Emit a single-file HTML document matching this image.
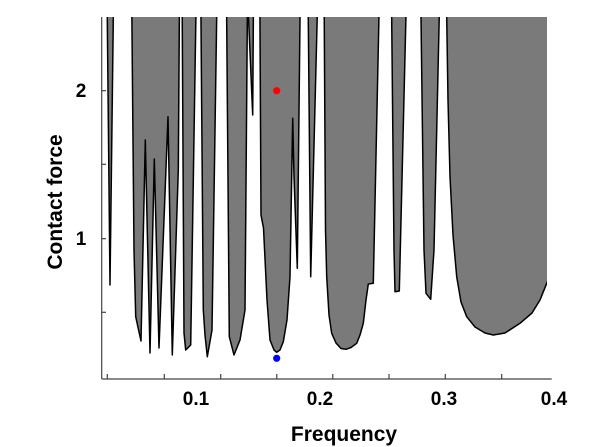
<!DOCTYPE html>
<html><head><style>body{margin:0;background:#fff}svg{display:block}</style></head><body>
<svg width="600" height="447" viewBox="0 0 600 447" xmlns="http://www.w3.org/2000/svg" font-family="Liberation Sans, sans-serif" font-weight="bold">
<defs><clipPath id="c"><rect x="100" y="17" width="447" height="362"/></clipPath></defs>
<g fill="#7a7a7a" stroke="#000" stroke-width="1.5" stroke-linejoin="round" clip-path="url(#c)">
<path d="M107.2,10 L110,285 L113.4,10 Z"/>
<path d="M131.8,10 L134,250 L135.7,316.7 L141,341 L145.3,140 L150,353 L154.3,159 L159,348 L168,116.7 L172.3,355 L178.3,170 L179.4,10 Z"/>
<path d="M182.2,10 L184,333 L185.7,350 L190.7,345 L196,10 Z"/>
<path d="M200.9,10 L203.3,310 L205,335 L207.3,356.7 L212,330 L216.8,10 Z"/>
<path d="M226.6,10 L229.3,336.7 L234,355 L240,340 L245,310 L247.4,10 Z"/>
<path d="M248.2,10 L252.7,115 L253.4,10 Z"/>
<path d="M259.9,10 L261,215 L263.5,228 L267,300 L270,340 L274,350 L276.7,352.3 L280,350 L283.3,341.7 L287,320 L290,276.7 L292.7,118.3 L294,176.7 L297.3,268.3 L300.1,10 Z"/>
<path d="M308.2,10 L310.7,276.7 L317.4,10 Z"/>
<path d="M324.2,10 L325.5,230 L326.7,276.7 L329,315 L331.7,333.3 L336,343 L341,348.5 L346,349.3 L351,347.5 L356.7,343.3 L360,335 L363.3,323.3 L366,300 L368.3,284 L373.3,283.3 L379.1,10 Z"/>
<path d="M391.6,10 L394,250 L395,291.7 L399.3,291 L406.1,10 Z"/>
<path d="M420.9,10 L424,250 L426,293.3 L430.7,299.3 L434,250 L439.4,10 Z"/>
<path d="M446.6,10 L448,100 L450,176.7 L453,235 L456.7,276.7 L461,302 L466.7,316.7 L475,327 L485,333 L493.3,335 L505,333 L520,323.3 L532,313 L540,300 L546.7,283.3 L560,250 L560,10 Z"/>
</g>
<g stroke="#444" stroke-width="1.2">
<line x1="101.7" y1="17" x2="101.7" y2="379"/>
<line x1="101.7" y1="379" x2="551.7" y2="379"/>
<line x1="101.7" y1="90.7" x2="106" y2="90.7"/>
<line x1="101.7" y1="164.3" x2="106" y2="164.3"/>
<line x1="101.7" y1="238.7" x2="106" y2="238.7"/>
<line x1="101.7" y1="312.3" x2="106" y2="312.3"/>
<line x1="107.3" y1="379" x2="107.3" y2="374"/>
<line x1="164.3" y1="379" x2="164.3" y2="374"/>
<line x1="220.7" y1="379" x2="220.7" y2="374"/>
<line x1="276.8" y1="379" x2="276.8" y2="374"/>
<line x1="332.8" y1="379" x2="332.8" y2="374"/>
<line x1="389" y1="379" x2="389" y2="374"/>
<line x1="445.3" y1="379" x2="445.3" y2="374"/>
<line x1="501.7" y1="379" x2="501.7" y2="374"/>
</g>
<circle cx="276.7" cy="90.7" r="3.6" fill="#f00"/>
<circle cx="276.7" cy="358.3" r="3.6" fill="#00f"/>
<g font-size="19" fill="#000" text-anchor="middle">
<text x="196" y="405">0.1</text>
<text x="320" y="405">0.2</text>
<text x="444" y="405">0.3</text>
<text x="554" y="405">0.4</text>
<text x="81" y="97">2</text>
<text x="81" y="245">1</text>
</g>
<text x="344" y="441" font-size="21" text-anchor="middle">Frequency</text>
<text transform="translate(62,202) rotate(-90)" font-size="21" text-anchor="middle">Contact force</text>
</svg>
</body></html>
